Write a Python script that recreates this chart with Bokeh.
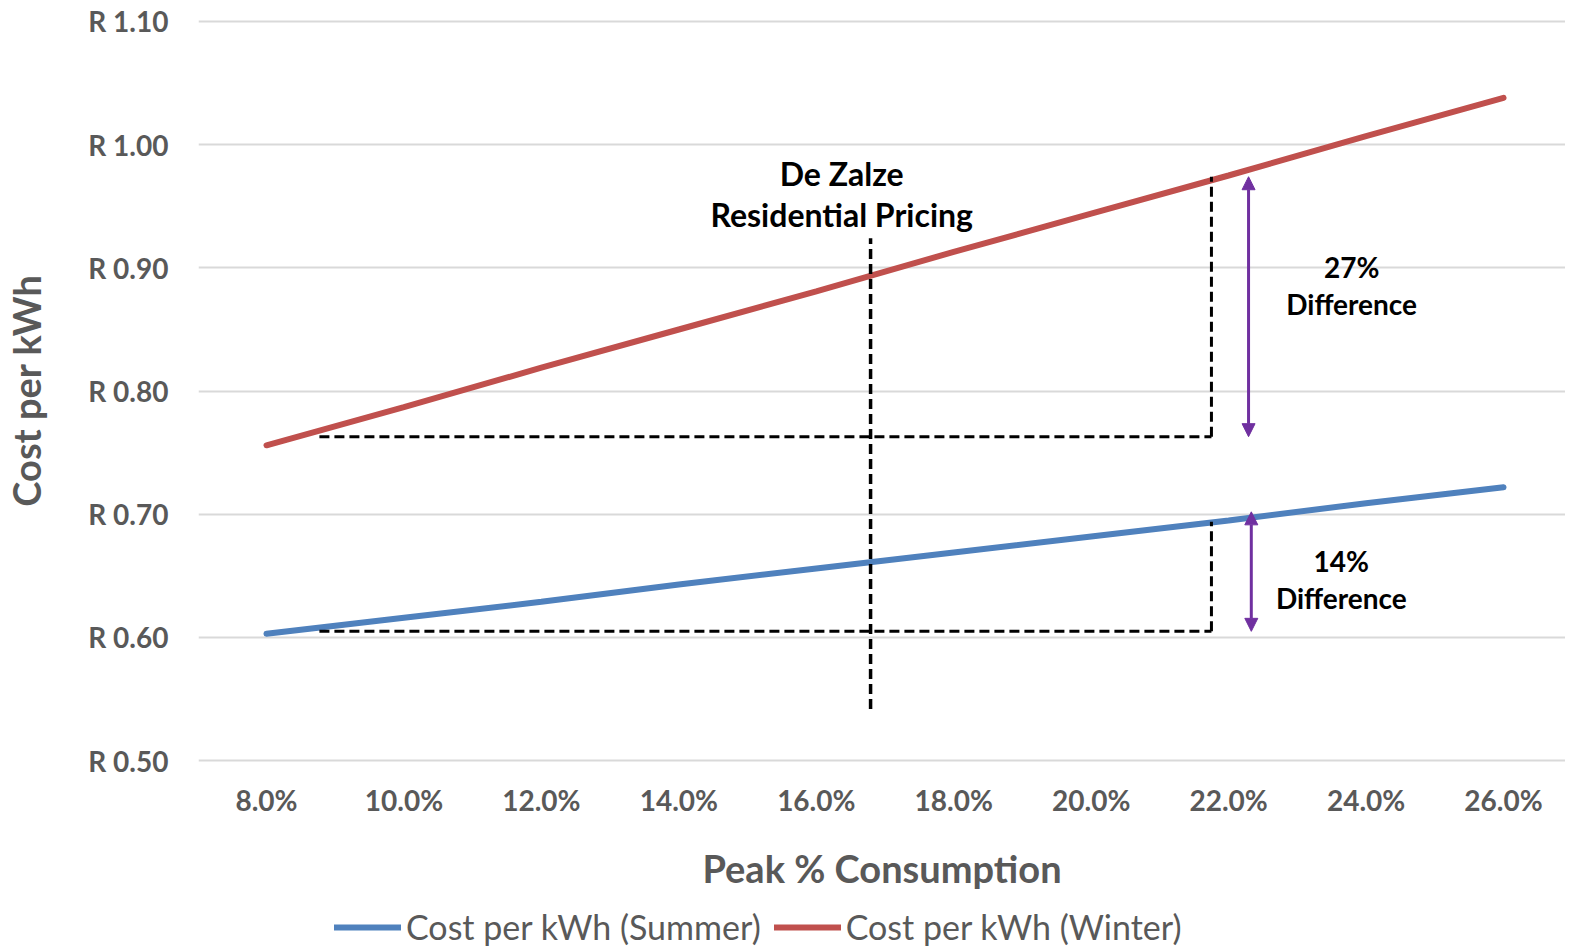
from bokeh.plotting import figure
from bokeh.layouts import column
from bokeh.models import ColumnDataSource, Legend, LegendItem, Arrow, NormalHead, Range1d, FixedTicker
from bokeh.embed import file_html
from bokeh.resources import INLINE
from bokeh.core.properties import value

# ---- data ----
peak_pct = [8, 10, 12, 14, 16, 18, 20, 22, 24, 26]
cost_summer = [0.603, 0.616, 0.629, 0.643, 0.656, 0.669, 0.682, 0.695, 0.709, 0.722]
cost_winter = [0.756, 0.787, 0.819, 0.850, 0.881, 0.913, 0.944, 0.975, 1.007, 1.038]

x_ticks = [8, 10, 12, 14, 16, 18, 20, 22, 24, 26]
x_tick_labels = ["8.0%", "10.0%", "12.0%", "14.0%", "16.0%", "18.0%", "20.0%", "22.0%", "24.0%", "26.0%"]
y_ticks = [0.5, 0.6, 0.7, 0.8, 0.9, 1.0, 1.1]
y_tick_labels = ["R 0.50", "R 0.60", "R 0.70", "R 0.80", "R 0.90", "R 1.00", "R 1.10"]

# annotation values
dezalze_pct = 16.79
dezalze_y = [0.542, 0.924]
ref_start_pct = 8.77
ref_end_pct = 21.75
winter_ref = [0.763, 0.974]
summer_ref = [0.605, 0.694]
winter_arrow_pct = 22.29
winter_arrow = [0.974, 0.763]
summer_arrow_pct = 22.33
summer_arrow = [0.702, 0.605]

note_x = [16.37, 16.37]
note_y = [0.9765, 0.9432]
note_text = ["De Zalze", "Residential Pricing"]
diff_x = [23.79, 23.79, 23.64, 23.64]
diff_y = [0.901, 0.871, 0.6623, 0.6323]
diff_text = ["27%", "Difference", "14%", "Difference"]

FONT = "Lato"
GREY = "#595959"
BLUE = "#4F81BD"
RED = "#C0504D"
PURPLE = "#7030A0"

p = figure(output_backend="svg", toolbar_location=None,
           x_range=Range1d(7.0105, 26.902), y_range=Range1d(0.49610, 1.10487),
           frame_width=1367, frame_height=750,
           min_border_left=189, min_border_right=0, min_border_top=15, min_border_bottom=130)
p.outline_line_color = None
p.background_fill_color = "white"
p.border_fill_color = "white"

p.xgrid.grid_line_color = None
p.ygrid.grid_line_color = "#D9D9D9"
p.ygrid.grid_line_width = 2

p.xaxis.ticker = FixedTicker(ticks=x_ticks)
p.xaxis.major_label_overrides = {t: l for t, l in zip(x_ticks, x_tick_labels)}
p.yaxis.ticker = FixedTicker(ticks=y_ticks)
p.yaxis.major_label_overrides = {t: l for t, l in zip(y_ticks, y_tick_labels)}

for ax in (p.xaxis[0], p.yaxis[0]):
    ax.axis_line_color = None
    ax.major_tick_line_color = None
    ax.minor_tick_line_color = None
    ax.major_tick_out = 0
    ax.major_tick_in = 0
    ax.major_label_text_font = FONT
    ax.major_label_text_font_style = "bold"
    ax.major_label_text_font_size = "28px"
    ax.major_label_text_color = GREY
    ax.axis_label_text_font = FONT
    ax.axis_label_text_font_style = "bold"
    ax.axis_label_text_font_size = "38px"
    ax.axis_label_text_color = GREY

p.xaxis.axis_label = "Peak % Consumption"
p.yaxis.axis_label = "Cost per kWh"
p.xaxis.major_label_standoff = 17
p.xaxis.axis_label_standoff = 25
p.yaxis.major_label_standoff = 30
p.yaxis.axis_label_standoff = 36

src = ColumnDataSource(dict(x=peak_pct, s=cost_summer, w=cost_winter))
p.line("x", "s", source=src, line_color=BLUE, line_width=6, line_cap="round")
p.line("x", "w", source=src, line_color=RED, line_width=6, line_cap="round")

# dashed reference lines
dash = "10 5"
p.segment(x0=[dezalze_pct], y0=[dezalze_y[0]], x1=[dezalze_pct], y1=[dezalze_y[1]],
          line_color="black", line_width=3.5, line_dash=dash)
p.segment(x0=[ref_start_pct, ref_start_pct], y0=[winter_ref[0], summer_ref[0]],
          x1=[ref_end_pct, ref_end_pct], y1=[winter_ref[0], summer_ref[0]],
          line_color="black", line_width=3, line_dash=dash)
p.segment(x0=[ref_end_pct, ref_end_pct], y0=[winter_ref[0], summer_ref[0]],
          x1=[ref_end_pct, ref_end_pct], y1=[winter_ref[1], summer_ref[1]],
          line_color="black", line_width=3, line_dash=dash)

# arrows
for ax_x, (ya, yb) in ((winter_arrow_pct, winter_arrow), (summer_arrow_pct, summer_arrow)):
    p.add_layout(Arrow(x_start=ax_x, y_start=ya, x_end=ax_x, y_end=yb,
                       line_color=PURPLE, line_width=3,
                       start=NormalHead(size=13, fill_color=PURPLE, line_color=PURPLE),
                       end=NormalHead(size=13, fill_color=PURPLE, line_color=PURPLE)))

p.text(x=note_x, y=note_y, text=note_text, text_font=value(FONT), text_font_style="bold",
       text_font_size="32px", text_color="black", text_align="center", text_baseline="middle")
p.text(x=diff_x, y=diff_y, text=diff_text, text_font=value(FONT), text_font_style="bold",
       text_font_size="28px", text_color="black", text_align="center", text_baseline="middle")

# legend strip below the chart (same series, drawn outside its own view)
pl = figure(width=1556, height=52, output_backend="svg", toolbar_location=None,
            x_axis_type=None, y_axis_type=None,
            x_range=Range1d(100, 101), y_range=Range1d(100, 101),
            min_border_left=0, min_border_right=0, min_border_top=0, min_border_bottom=0)
pl.outline_line_color = None
l_s = pl.line("x", "s", source=src, line_color=BLUE, line_width=6, line_cap="round")
l_w = pl.line("x", "w", source=src, line_color=RED, line_width=6, line_cap="round")

legend = Legend(items=[LegendItem(label="Cost per kWh (Summer)", renderers=[l_s]),
                       LegendItem(label="Cost per kWh (Winter)", renderers=[l_w])],
                orientation="horizontal", location=(136, 0))
legend.label_text_font = FONT
legend.label_text_font_size = "34px"
legend.label_text_color = GREY
legend.glyph_width = 67
legend.glyph_height = 30
legend.label_standoff = 5
legend.spacing = 13
legend.padding = 0
legend.margin = 0
legend.border_line_color = None
legend.background_fill_alpha = 0
pl.add_layout(legend, "center")

layout = column(p, pl, spacing=0)
open("out.html", "w").write(file_html(layout, INLINE))
